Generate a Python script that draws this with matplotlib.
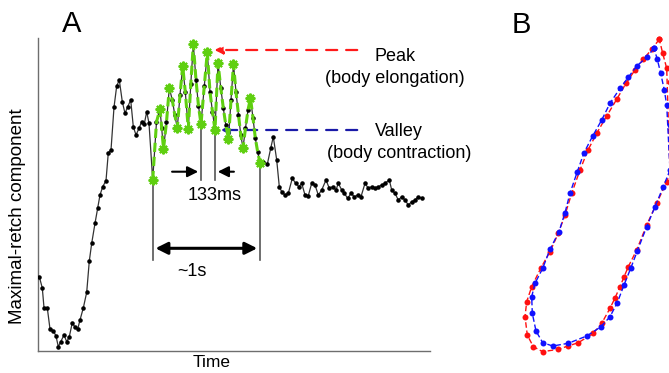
import matplotlib
matplotlib.use('Agg')
import matplotlib.pyplot as plt
import numpy as np

# -------------------------- Data --------------------------
# Panel A: maximal-retch component over time (time and amplitude in arbitrary units)
t_pre = [1.3, 4.3, 6, 9.3, 12, 15.3, 18, 20.3, 22.7, 26, 28.7, 31.3, 34.3, 37, 39.7, 42,
         45.3, 48.7, 51.3, 53.7, 57, 59.7, 62, 64.7, 68, 70.3, 73, 76, 78.7, 81.3, 84.3,
         87, 89.7, 92.7, 95.3, 98, 101, 103.7, 106.3, 108.7, 111]
v_pre = [74.3, 63, 43.3, 43, 22, 20.3, 15, 4.3, 9.3, 16, 9.3, 14.3, 28.3, 23.7, 22, 31,
         43, 58.7, 90, 107.7, 127.7, 143.3, 156, 164.3, 170.3, 198.3, 201, 243.7, 265, 271,
         249.3, 237.7, 244.3, 251, 224.3, 216, 222.7, 229.3, 227, 239.3, 227.7]

# retching burst (first and last points are the valleys that bound the ~1 s window)
t_burst = [114.7, 118.5, 122, 123.7, 125.5, 128.5, 131.3, 134.3, 136.8, 139.3, 142, 144.7,
           147.3, 150.3, 152.8, 155.3, 158, 160.5, 163, 166.3, 169.3, 172, 174.5, 177, 180,
           182.8, 185.3, 187.8, 190.5, 193, 195.5, 198, 200.5, 202.8, 205, 207.5, 210,
           212.5, 215, 217.3, 219.7, 222]
v_burst = [171, 229, 242, 223, 202, 229, 263, 251, 236, 223, 256, 285,
           259, 222, 267, 307, 271, 245, 227, 265, 299, 259, 239, 221, 288,
           263, 243, 226, 212, 251, 287, 259, 236, 216, 203, 223, 241,
           253, 233, 213, 199, 188]
# indices of the peaks / valleys inside the burst (marked with green stars)
extrema_idx = [0, 2, 4, 6, 9, 11, 13, 15, 18, 20, 23, 24, 28, 30, 34, 37, 41]

t_post = [225.3, 229.3, 232.7, 235.3, 238.7, 241.3, 243.7, 247, 250.3, 254.3, 257.7, 261,
          263.7, 267, 270.3, 273.7, 277, 280.3, 283.7, 288, 291.3, 294.7, 298, 300.3,
          303.7, 306.3, 309.7, 313, 316.3, 319.7, 323, 327, 330.3, 333.7, 337, 340.3,
          343.7, 347, 351.3, 353.7, 357, 360.3, 363.7, 367, 370.3, 373.7, 377, 380.3, 383.7]
v_post = [189.3, 186.7, 202.7, 214.3, 191, 164.3, 159.3, 156, 157.7, 172.7, 167.7, 164.3,
          167.7, 156, 155.3, 167.7, 166, 156, 161, 171, 162.7, 164.3, 161, 167.7,
          161, 157.7, 152.7, 157.7, 154.3, 156, 154.3, 167.7, 162.7, 164.3, 162.7, 164.3,
          166, 167.7, 171, 161, 157.7, 151, 154.3, 151, 146, 149.3, 151, 154.3, 152.7]

# Panel B: two closed trajectories (red and blue)
red_x = [144.3, 136.7, 128.3, 120, 111, 101.7, 91.7, 81.7, 73, 65, 56.7, 50, 43.3, 35, 25.7,
         16.7, 11.7, 10, 12.3, 18.3, 27.7, 43.3, 53, 63.3, 78.3, 86.7, 95, 100, 105, 109,
         113.3, 121.7, 131.7, 141.7, 151.7, 158, 163, 161, 155, 151.7, 147.7, 144.3]
red_y = [333.7, 323.7, 313.7, 303, 289.7, 273.7, 257, 239.7, 223, 203, 179.7, 158, 139.7,
         121.3, 104.7, 86.3, 71.3, 56.3, 38, 26.3, 21.3, 23.7, 27, 30.3, 39.7, 49.7, 64.7,
         75, 86.3, 96, 106.3, 123, 148, 169.7, 191.3, 208, 233, 263, 291, 304.7, 319.7, 333.7]
blue_x = [139, 131.7, 121.7, 113.3, 105, 95, 86.7, 77.7, 69, 62.3, 55, 50, 44, 35, 27.7, 20,
          16.7, 17.3, 21, 27.7, 37.7, 53.3, 71.7, 86, 95, 102.3, 109, 115.7, 122.3, 131.7,
          140, 148.3, 155, 158, 155, 151.7, 149.3, 145.7, 142.3, 139]
blue_y = [324.7, 315.7, 307, 295.7, 284.7, 269.7, 253, 237, 220.3, 201.3, 179.7, 160.3,
          141.3, 123.7, 104.7, 89.7, 76.3, 59.7, 42, 30.3, 27, 29.7, 37, 46.3, 56.3, 70.3,
          88, 104.7, 122, 146.3, 166.3, 186.3, 203, 225, 248, 268, 283, 299.7, 313.7, 324.7]

# -------------------------- Plot Configuration --------------------------
plt.rcParams['font.family'] = ['Liberation Sans', 'DejaVu Sans']

W, H = 669, 373
fig = plt.figure(figsize=(W / 100, H / 100), dpi=100)

green = '#5fcf10'
spine_col = '#6e6e6e'

# Panel A axes (1 data unit = 1 pixel)
axA = fig.add_axes([38 / W, (H - 351) / H, 392 / W, 313 / H])
axA.set_xlim(0, 392)
axA.set_ylim(0, 313)

t_all = np.concatenate([t_pre, t_burst, t_post])
v_all = np.concatenate([v_pre, v_burst, v_post])
axA.plot(t_all, v_all, color='#333333', lw=0.9, marker='.', markersize=4.5,
         markerfacecolor='black', markeredgecolor='black', zorder=3)

t_b = np.array(t_burst)
v_b = np.array(v_burst)
axA.plot(t_b, v_b, color=green, lw=2.2, ls=(0, (3, 1.6)), zorder=4)
axA.plot(t_b[extrema_idx], v_b[extrema_idx], ls='none', marker=(8, 2, 0),
         markersize=7, markeredgewidth=1.5, color=green, zorder=5)

# vertical guide lines
t_v4, t_v5 = t_b[18], t_b[23]
axA.plot([t_v4, t_v4], [v_b[18], 171], color='#555555', lw=1.2, zorder=2)
axA.plot([t_v5, t_v5], [v_b[23], 171], color='#555555', lw=1.2, zorder=2)
axA.plot([t_b[0], t_b[0]], [v_b[0], 91], color='#555555', lw=1.2, zorder=2)
axA.plot([t_b[-1], t_b[-1]], [v_b[-1], 91], color='#555555', lw=1.2, zorder=2)

# 133ms arrows
arw = dict(arrowstyle='-|>', color='black', lw=1.5, mutation_scale=16)
axA.annotate('', xy=(t_v4, 179.3), xytext=(131.3, 179.3), arrowprops=arw)
axA.annotate('', xy=(t_v5, 179.3), xytext=(198.7, 179.3), arrowprops=arw)
axA.text(177, 156, '133ms', ha='center', va='center', fontsize=13)

# ~1s double arrow
axA.annotate('', xy=(t_b[0], 102.7), xytext=(t_b[-1], 102.7),
             arrowprops=dict(arrowstyle='<|-|>', color='black', lw=2.2, mutation_scale=18))
axA.text(154, 80, '~1s', ha='center', va='center', fontsize=13)

# Peak / Valley callouts
axA.annotate('', xy=(173.7, 301), xytext=(322, 301),
             arrowprops=dict(arrowstyle='-|>', color='#ff1a1a', lw=1.6, ls=(0, (5, 4)),
                             mutation_scale=12))
axA.annotate('', xy=(180, 221), xytext=(322, 221),
             arrowprops=dict(arrowstyle='-|>', color='#1a1aa8', lw=1.6, ls=(0, (5, 4)),
                             mutation_scale=12))
axA.text(357, 283.5, 'Peak\n(body elongation)', ha='center', va='center', fontsize=13,
         linespacing=1.35)
axA.text(361, 208.5, 'Valley\n(body contraction)', ha='center', va='center', fontsize=13,
         linespacing=1.35)

# axes styling
for side in ['top', 'right']:
    axA.spines[side].set_visible(False)
for side in ['left', 'bottom']:
    axA.spines[side].set_color(spine_col)
    axA.spines[side].set_linewidth(1.0)
axA.set_xticks([])
axA.set_yticks([])
axA.set_xlabel('Time', fontsize=12.5)
axA.xaxis.set_label_coords(0.444, -0.012)
axA.set_ylabel('Maximal-retch component', fontsize=13.5)
axA.yaxis.set_label_coords(-0.03, 0.43)

# Panel B axes (runs past the right edge, so the loop is cut off like the original)
axB = fig.add_axes([515 / W, 0, 250 / W, 1])
axB.set_xlim(0, 250)
axB.set_ylim(0, 373)
axB.axis('off')
axB.plot(red_x, red_y, color='#ff1010', lw=1.0, ls=(0, (4, 2)), marker='o',
         markersize=4.3, markeredgewidth=0, zorder=3)
axB.plot(blue_x, blue_y, color='#1010ff', lw=1.0, ls=(0, (4, 2)), marker='o',
         markersize=4.3, markeredgewidth=0, zorder=4)

# panel letters
fig.text(72 / W, 1 - 24 / H, 'A', fontsize=21, ha='center', va='center')
fig.text(521 / W, 1 - 25 / H, 'B', fontsize=21, ha='center', va='center')

plt.savefig('out.png', dpi=100)
